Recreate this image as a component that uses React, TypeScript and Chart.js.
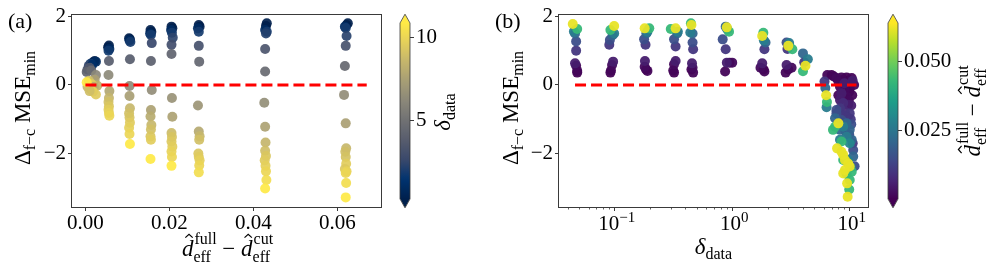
import React, { useEffect, useRef } from 'react';
import { Chart, registerables } from 'chart.js';
Chart.register(...registerables);

const FONT = '"Liberation Serif", "DejaVu Serif", serif';
const AXIS = '#3a3a3a';

// ---------- Panel (a): x = d_full - d_cut, y = Δ MSE_min, colour = δ_data ----------
const aX = [
  0.0022, 0.0018, 0.0025, 0.0012, 0.0008, 0.0016, 0.0005, 0.0010, 0.0003, 0.0014, 0.0025, 0.0022, 0.0028, 0.0008, 0.0015, 0.0005, 0.0012, 0.0020, 0.0018, 0.0025, 0.0010, 0.0003,
  0.0056, 0.0054, 0.0057, 0.0055, 0.0056, 0.0055, 0.0057, 0.0056, 0.0055, 0.0056, 0.0055, 0.0056, 0.0057,
  0.0104, 0.0106, 0.0105, 0.0107, 0.0106, 0.0105, 0.0105, 0.0106, 0.0104, 0.0105, 0.0106, 0.0104, 0.0105, 0.0106,
  0.0155, 0.0157, 0.0154, 0.0156, 0.0158, 0.0156, 0.0158, 0.0156, 0.0155, 0.0157, 0.0156, 0.0155, 0.0156, 0.0155,
  0.0205, 0.0207, 0.0204, 0.0206, 0.0208, 0.0205, 0.0205, 0.0206, 0.0207, 0.0205, 0.0206, 0.0205, 0.0207, 0.0205, 0.0206, 0.0205,
  0.0270, 0.0272, 0.0268, 0.0270, 0.0270, 0.0271, 0.0268, 0.0270, 0.0272, 0.0271, 0.0269, 0.0270, 0.0272, 0.0271, 0.0270,
  0.0432, 0.0430, 0.0428, 0.0432, 0.0430, 0.0428, 0.0428, 0.0426, 0.0428, 0.0429, 0.0428, 0.0430, 0.0427, 0.0429, 0.0430, 0.0431, 0.0428,
  0.0625, 0.0622, 0.0618, 0.0620, 0.0622, 0.0620, 0.0618, 0.0616, 0.0620, 0.0621, 0.0619, 0.0620, 0.0621, 0.0618, 0.0622, 0.0620, 0.0621, 0.0620,
];
const aY = [
  0.70, 0.66, 0.68, 0.62, 0.56, 0.58, 0.45, 0.50, 0.38, 0.42, 0.29, 0.15, -0.02, 0.12, 0.02, -0.05, -0.12, -0.06, -0.20, -0.28, -0.18, 0.08,
  1.15, 1.10, 1.05, 1.00, 0.70, 0.29, -0.18, -0.38, -0.50, -0.62, -0.72, -0.82, -0.90,
  1.36, 1.33, 1.30, 1.25, 0.75, -0.03, -0.32, -0.68, -0.83, -0.95, -1.10, -1.25, -1.43, -1.72,
  1.60, 1.55, 1.50, 1.46, 1.22, 0.70, -0.15, -0.73, -0.92, -1.17, -1.30, -1.50, -1.60, -2.16,
  1.70, 1.65, 1.60, 1.52, 1.38, 1.17, 0.90, -0.38, -0.93, -1.40, -1.52, -1.65, -1.80, -1.94, -2.10, -2.36,
  1.75, 1.70, 1.65, 1.55, 1.14, 0.68, -0.60, -1.36, -1.50, -1.60, -2.00, -2.10, -2.20, -2.35, -2.55,
  1.80, 1.72, 1.60, 1.55, 1.50, 1.05, 0.39, -0.52, -1.22, -1.68, -1.92, -2.07, -2.20, -2.36, -2.52, -2.77, -3.02,
  1.80, 1.75, 1.70, 1.66, 1.43, 1.14, 0.55, -0.29, -1.12, -1.85, -1.95, -2.10, -2.30, -2.45, -2.52, -2.57, -2.86, -3.28,
];
const aDelta = [
  0.1, 0.5, 1.0, 1.8, 2.5, 1.2, 3.2, 3.6, 4.2, 4.6, 6.2, 7.5, 8.3, 9.0, 9.6, 8.6, 9.3, 8.0, 9.9, 9.5, 8.9, 10.8,
  0.05, 0.3, 1.0, 1.8, 3.8, 6.3, 7.8, 8.5, 9.0, 9.3, 9.6, 9.8, 10.0,
  0.05, 0.3, 1.0, 1.9, 3.8, 6.4, 7.4, 8.6, 9.0, 9.2, 9.5, 9.7, 10.0, 10.8,
  0.05, 0.3, 1.0, 1.9, 2.6, 4.0, 6.5, 7.6, 8.0, 8.6, 9.0, 9.3, 9.6, 10.8,
  0.05, 0.3, 1.0, 1.9, 2.4, 3.0, 4.2, 6.8, 7.6, 8.8, 9.2, 9.4, 9.6, 9.8, 10.0, 10.8,
  0.05, 0.3, 1.0, 1.9, 3.2, 4.4, 6.9, 7.9, 8.6, 9.0, 9.3, 9.5, 9.7, 10.0, 10.3,
  0.05, 0.3, 1.0, 1.9, 2.2, 3.4, 4.6, 6.6, 7.6, 8.5, 8.9, 9.3, 9.5, 9.7, 10.0, 10.3, 10.8,
  0.05, 0.3, 1.0, 1.9, 2.3, 3.2, 4.5, 6.5, 7.5, 8.6, 8.9, 9.1, 9.6, 9.4, 9.8, 10.0, 10.3, 10.8,
];

// ---------- Panel (b): x = δ_data, y = Δ MSE_min, colour = d_full - d_cut ----------
const bDelta = [
  0.046, 0.045, 0.047, 0.047, 0.046, 0.047, 0.048, 0.048, 0.048, 0.044,
  0.096, 0.099, 0.091, 0.090, 0.097, 0.095, 0.093, 0.092, 0.092, 0.099,
  0.186, 0.190, 0.178, 0.183, 0.181, 0.180, 0.190, 0.185, 0.197, 0.180,
  0.340, 0.345, 0.320, 0.330, 0.330, 0.320, 0.315, 0.320, 0.300, 0.330,
  0.460, 0.440, 0.460, 0.465, 0.455, 0.460, 0.465, 0.450, 0.445, 0.450,
  0.880, 0.910, 0.830, 0.880, 0.900, 1.000, 0.870, 0.950, 0.940, 0.900,
  1.86, 1.92, 1.88, 1.80, 1.74, 1.88, 1.85, 1.84, 1.80,
  2.90, 3.05, 2.95, 2.90, 3.20, 2.85, 3.00, 3.25, 3.00,
  4.00, 4.40, 4.10, 4.00, 4.20,
  6.44, 7.0, 7.7, 8.5, 9.4, 10.4, 10.9, 10.6, 8.0, 9.0, 10.1, 9.5, 7.3, 8.8,
  6.2, 6.3, 6.4, 6.35, 6.1,
  8.26, 9.1, 10.0, 8.5, 9.4, 8.26, 8.8, 9.7, 8.26, 9.1, 10.0, 7.7, 10.5, 9.8, 10.3, 8.9, 9.6, 9.9, 8.0,
  7.7, 7.5, 8.5, 9.4, 10.0, 8.26, 10.4, 10.7, 11.0, 10.7, 10.2, 10.6, 10.3, 9.9, 9.2,
  8.8, 9.4, 10.0, 8.26, 9.7, 10.2,
  7.5, 7.2, 8.5, 8.8, 10.4, 10.0, 9.9, 9.4,
  8.0, 7.8, 8.8, 9.1, 9.7, 10.0, 9.1, 8.8, 9.5, 9.6, 8.5,
];
const bY = [
  1.50, 1.56, 1.27, 1.00, 0.63, 0.56, 0.41, 0.36, 1.63, 1.78,
  1.45, 1.50, 1.31, 1.17, 0.68, 0.58, 0.42, 0.36, 1.60, 1.72,
  1.50, 1.55, 1.33, 1.17, 0.70, 0.53, 0.41, 0.45, 1.65, 1.65,
  1.50, 1.55, 1.33, 1.12, 0.70, 0.60, 0.42, 0.36, 1.63, 1.65,
  1.50, 1.53, 1.24, 1.04, 0.63, 0.50, 0.36, 0.45, 1.80, 1.75,
  1.70, 1.62, 1.33, 1.04, 0.65, 0.65, 0.39, 0.65, 1.55, 1.68,
  1.30, 1.24, 1.04, 0.63, 0.50, 0.39, 0.45, 1.52, 1.43,
  1.24, 1.22, 1.05, 0.58, 0.50, 0.36, 0.45, 1.04, 1.14,
  0.92, 0.75, 0.66, 0.40, 0.56,
  0.29, 0.29, 0.20, 0.22, 0.22, 0.20, 0.00, 0.12, 0.10, 0.05, 0.10, 0.10, 0.25, 0.15,
  -0.09, -0.30, -0.50, -0.65, 0.10,
  -0.05, -0.15, -0.10, -0.24, -0.34, -0.44, -0.53, -0.58, -0.68, -0.78, -0.83, -0.83, -0.30, -0.45, -0.60, -0.90, -0.95, -0.20, -0.30,
  -0.73, -0.97, -1.02, -1.12, -1.31, -1.31, -1.60, -1.90, -2.37, -2.09, -1.00, -1.70, -1.15, -1.45, -1.35,
  -1.22, -1.51, -1.70, -1.60, -2.19, -2.40,
  -1.22, -1.31, -1.65, -2.19, -2.53, -2.77, -3.05, -2.60,
  -1.12, -1.85, -2.04, -2.19, -2.29, -2.38, -2.48, -2.58, -2.87, -3.26, -1.95,
];
const bDiff = [
  0.021, 0.027, 0.0155, 0.0105, 0.0055, 0.002, 0.001, 0.0005, 0.043, 0.062,
  0.021, 0.027, 0.0155, 0.0105, 0.0055, 0.002, 0.001, 0.0005, 0.043, 0.062,
  0.021, 0.027, 0.0155, 0.0105, 0.0055, 0.002, 0.001, 0.0005, 0.043, 0.062,
  0.021, 0.027, 0.0155, 0.0105, 0.0055, 0.002, 0.001, 0.0005, 0.043, 0.062,
  0.021, 0.027, 0.0155, 0.0105, 0.0055, 0.002, 0.001, 0.0005, 0.043, 0.062,
  0.021, 0.027, 0.0155, 0.0105, 0.0055, 0.002, 0.001, 0.0005, 0.043, 0.062,
  0.027, 0.021, 0.0105, 0.0055, 0.002, 0.001, 0.0005, 0.043, 0.062,
  0.0155, 0.027, 0.0105, 0.0055, 0.002, 0.001, 0.0005, 0.043, 0.062,
  0.021, 0.027, 0.0105, 0.043, 0.062,
  0.001, 0.0005, 0.002, 0.001, 0.0005, 0.001, 0.002, 0.0055, 0.002, 0.0055, 0.001, 0.0005, 0.001, 0.0005,
  0.021, 0.062, 0.043, 0.027, 0.0105,
  0.001, 0.002, 0.001, 0.0055, 0.002, 0.0055, 0.008, 0.0055, 0.0105, 0.008, 0.0105, 0.0155, 0.001, 0.002, 0.0055, 0.0105, 0.0105, 0.0005, 0.001,
  0.0155, 0.021, 0.0155, 0.021, 0.0205, 0.021, 0.021, 0.0155, 0.0155, 0.021, 0.0105, 0.0105, 0.0155, 0.0155, 0.0155,
  0.027, 0.027, 0.030, 0.027, 0.027, 0.030,
  0.043, 0.043, 0.043, 0.043, 0.043, 0.043, 0.043, 0.043,
  0.062, 0.062, 0.062, 0.062, 0.062, 0.062, 0.062, 0.062, 0.062, 0.062, 0.062,
];

// ---------- axes / ticks / ranges ----------
const aXRange = [-0.0032, 0.0704];
const yRange = [-3.56, 2.04];
const bXRange = [0.0336, 14.3];
const aXTicks = [0, 0.02, 0.04, 0.06];
const yTicks = [-2, 0, 2];
const bXTicks = [0.1, 1, 10];
const bXMinor = [0.04, 0.05, 0.06, 0.07, 0.08, 0.09, 0.2, 0.3, 0.4, 0.5, 0.6, 0.7, 0.8, 0.9, 2, 3, 4, 5, 6, 7, 8, 9];
const cbARange = [0.3, 10.85];
const cbATicks = [5, 10];
const cbBRange = [0.0003, 0.064];
const cbBTicks = [0.025, 0.05];
const refLevel = 0;
const refLineAX = [0, 0.067];
const refLineBX = [0.046, 11.4];

const CIVIDIS = ['#00204D', '#00336F', '#39486B', '#575C6D', '#707173', '#8A8779', '#A69D75', '#C4B56C', '#E4CF5B', '#FFEA46'];
const VIRIDIS = ['#440154', '#482878', '#3E4A89', '#31688E', '#26828E', '#1F9E89', '#35B779', '#6DCD59', '#B4DE2C', '#FDE725'];

function makeCmap(stops: string[]) {
  const rgb = stops.map((h) => [1, 3, 5].map((i) => parseInt(h.slice(i, i + 2), 16)));
  return (t: number, alpha = 1) => {
    const tt = Math.min(1, Math.max(0, t)) * (rgb.length - 1);
    const i = Math.min(Math.floor(tt), rgb.length - 2);
    const f = tt - i;
    const c = rgb[i].map((v, k) => Math.round(v + (rgb[i + 1][k] - v) * f));
    return `rgba(${c[0]},${c[1]},${c[2]},${alpha})`;
  };
}
const cividis = makeCmap(CIVIDIS);
const viridis = makeCmap(VIRIDIS);

// ---------- math-ish text drawing ----------
type Run = { t?: string; s: number; dy?: number; it?: boolean; hat?: boolean; sup?: string; sub?: string; supDy?: number; subDy?: number };
function fontOf(r: Run) {
  return `${r.it ? 'italic ' : ''}${r.s}px ${FONT}`;
}
function runWidth(ctx: CanvasRenderingContext2D, r: Run) {
  ctx.font = fontOf(r);
  if (r.sup !== undefined) return Math.max(ctx.measureText(r.sup).width, ctx.measureText(r.sub || '').width);
  return ctx.measureText(r.t || '').width;
}
function drawMath(ctx: CanvasRenderingContext2D, runs: Run[], x: number, y: number, rotate: boolean, align: 'center' | 'left' = 'center') {
  ctx.save();
  ctx.translate(x, y);
  if (rotate) ctx.rotate(-Math.PI / 2);
  ctx.textBaseline = 'alphabetic';
  ctx.textAlign = 'left';
  ctx.fillStyle = '#000';
  ctx.strokeStyle = '#000';
  const widths = runs.map((r) => runWidth(ctx, r));
  const total = widths.reduce((p, c) => p + c, 0);
  let cx = align === 'center' ? -total / 2 : 0;
  runs.forEach((r, i) => {
    ctx.font = fontOf(r);
    if (r.sup !== undefined) {
      ctx.fillText(r.sup, cx + 1, r.supDy || 0);
      ctx.fillText(r.sub || '', cx, r.subDy || 0);
    } else {
      ctx.fillText(r.t || '', cx, r.dy || 0);
      if (r.hat) {
        const hx = cx + widths[i] * 0.62;
        const top = -r.s * 0.8;
        ctx.beginPath();
        ctx.moveTo(hx - r.s * 0.16, top);
        ctx.lineTo(hx, top - r.s * 0.14);
        ctx.lineTo(hx + r.s * 0.16, top);
        ctx.lineWidth = 1.2;
        ctx.stroke();
      }
    }
    cx += widths[i] + (r.sup !== undefined ? 1 : 0);
  });
  ctx.restore();
}

const yTitleRuns: Run[] = [{ t: 'Δ', s: 23 }, { t: 'f−c', s: 16, dy: 5 }, { t: ' MSE', s: 23 }, { t: 'min', s: 16, dy: 5 }];
const dDiffRuns: Run[] = [
  { t: 'd', s: 23, it: true, hat: true },
  { sup: 'full', sub: 'eff', s: 16, supDy: -12, subDy: 6 },
  { t: ' − ', s: 23 },
  { t: 'd', s: 23, it: true, hat: true },
  { sup: 'cut', sub: 'eff', s: 16, supDy: -12, subDy: 6 },
];
const deltaRuns: Run[] = [{ t: 'δ', s: 23, it: true }, { t: 'data', s: 16, dy: 5 }];

function drawFrame(ctx: CanvasRenderingContext2D, a: any) {
  ctx.save();
  ctx.strokeStyle = AXIS;
  ctx.lineWidth = 1;
  const l = Math.round(a.left) - 0.5, t = Math.round(a.top) - 0.5;
  const r = Math.round(a.right) + 0.5, b = Math.round(a.bottom) + 0.5;
  ctx.strokeRect(l, t, r - l, b - t);
  ctx.restore();
}

const signed = (v: number) => (v < 0 ? '−' + Math.abs(v) : String(v));

function yScale(width: number) {
  return {
    min: yRange[0],
    max: yRange[1],
    afterBuildTicks: (s: any) => { s.ticks = yTicks.map((v) => ({ value: v })); },
    afterFit: (s: any) => { s.width = width; },
    ticks: { font: { family: FONT, size: 21 }, color: '#000', padding: 2, callback: (v: any) => signed(Number(v)) },
    grid: { drawOnChartArea: false, drawTicks: true, tickLength: 4, tickColor: AXIS, tickWidth: 1 },
    border: { display: false },
  };
}

function refLine(xs: number[]) {
  return {
    type: 'line' as const,
    data: xs.map((x) => ({ x, y: refLevel })),
    borderColor: '#ff0000',
    borderWidth: 3,
    borderDash: [11, 5],
    pointRadius: 0,
    fill: false,
    order: 0,
  };
}

function configA(): any {
  return {
    type: 'scatter',
    data: {
      datasets: [
        refLine(refLineAX),
        {
          type: 'scatter',
          data: aX.map((x, i) => ({ x, y: aY[i] })),
          pointRadius: 5,
          pointHoverRadius: 5,
          pointBorderWidth: 0,
          pointBackgroundColor: aDelta.map((d) => cividis((d - cbARange[0]) / (cbARange[1] - cbARange[0]), 0.92)),
          order: 1,
        },
      ],
    },
    options: {
      responsive: false,
      animation: false,
      devicePixelRatio: 1,
      events: [],
      layout: { padding: { left: 0, top: 15, right: 14, bottom: 0 } },
      plugins: { legend: { display: false }, tooltip: { enabled: false } },
      scales: {
        x: {
          type: 'linear',
          min: aXRange[0],
          max: aXRange[1],
          afterBuildTicks: (s: any) => { s.ticks = aXTicks.map((v) => ({ value: v })); },
          afterFit: (s: any) => { s.height = 71; },
          ticks: { font: { family: FONT, size: 21 }, color: '#000', padding: 0, maxRotation: 0, callback: (v: any) => Number(v).toFixed(2) },
          grid: { drawOnChartArea: false, drawTicks: true, tickLength: 4, tickColor: AXIS, tickWidth: 1 },
          border: { display: false },
        },
        y: yScale(72),
      },
    },
    plugins: [
      {
        id: 'decoA',
        afterDraw(chart: any) {
          const { ctx, chartArea: a } = chart;
          drawFrame(ctx, a);
          drawMath(ctx, [{ t: '(a)', s: 22 }], 8, 28, false, 'left');
          drawMath(ctx, yTitleRuns, 30, (a.top + a.bottom) / 2 - 3, true);
          drawMath(ctx, dDiffRuns, (a.left + a.right) / 2, 256, false);
        },
      },
    ],
  };
}

function configB(): any {
  const order = bDelta.map((_, i) => i).sort((p, q) => bDiff[p] - bDiff[q]);
  return {
    type: 'scatter',
    data: {
      datasets: [
        refLine(refLineBX),
        {
          type: 'scatter',
          data: order.map((i) => ({ x: bDelta[i], y: bY[i] })),
          pointRadius: 5,
          pointHoverRadius: 5,
          pointBorderWidth: 0,
          pointBackgroundColor: order.map((i) => viridis((bDiff[i] - cbBRange[0]) / (cbBRange[1] - cbBRange[0]), 0.95)),
          order: 1,
        },
      ],
    },
    options: {
      responsive: false,
      animation: false,
      devicePixelRatio: 1,
      events: [],
      layout: { padding: { left: 0, top: 15, right: 12, bottom: 0 } },
      plugins: { legend: { display: false }, tooltip: { enabled: false } },
      scales: {
        x: {
          type: 'logarithmic',
          min: bXRange[0],
          max: bXRange[1],
          afterBuildTicks: (s: any) => { s.ticks = bXTicks.map((v) => ({ value: v, major: true })); },
          afterFit: (s: any) => { s.height = 71; },
          ticks: { font: { family: FONT, size: 21 }, color: '#000', padding: 0, maxRotation: 0, autoSkip: false, callback: () => '' },
          grid: { drawOnChartArea: false, drawTicks: true, tickLength: 4, tickColor: AXIS, tickWidth: 1 },
          border: { display: false },
        },
        y: yScale(79),
      },
    },
    plugins: [
      {
        id: 'decoB',
        afterDraw(chart: any) {
          const { ctx, chartArea: a } = chart;
          const xs = chart.scales.x;
          drawFrame(ctx, a);
          ctx.save();
          ctx.strokeStyle = AXIS;
          ctx.lineWidth = 0.8;
          bXMinor.forEach((v) => {
            const px = Math.round(xs.getPixelForValue(v)) + 0.5;
            ctx.beginPath();
            ctx.moveTo(px, a.bottom);
            ctx.lineTo(px, a.bottom + 2.5);
            ctx.stroke();
          });
          ctx.restore();
          bXTicks.forEach((v) => {
            const e = Math.round(Math.log10(v));
            drawMath(ctx, [{ t: '10', s: 21 }, { t: e < 0 ? '−' + Math.abs(e) : String(e), s: 15, dy: -8 }], xs.getPixelForValue(v) + 2, 230, false);
          });
          drawMath(ctx, [{ t: '(b)', s: 22 }], 15, 28, false, 'left');
          drawMath(ctx, yTitleRuns, 38, (a.top + a.bottom) / 2 - 3, true);
          drawMath(ctx, deltaRuns, (a.left + a.right) / 2, 254, false);
        },
      },
    ],
  };
}

function configCbar(range: number[], ticks: number[], cmap: (t: number, a?: number) => string, fmt: (v: number) => string, padLeft: number, axisW: number, labelRuns: Run[], labelX: number): any {
  return {
    type: 'scatter',
    data: { datasets: [] },
    options: {
      responsive: false,
      animation: false,
      devicePixelRatio: 1,
      events: [],
      layout: { padding: { left: padLeft, top: 23, right: 0, bottom: 79 } },
      plugins: { legend: { display: false }, tooltip: { enabled: false } },
      scales: {
        x: { display: false, min: 0, max: 1 },
        y: {
          position: 'right',
          min: range[0],
          max: range[1],
          afterBuildTicks: (s: any) => { s.ticks = ticks.map((v) => ({ value: v })); },
          afterFit: (s: any) => { s.width = axisW; },
          ticks: { font: { family: FONT, size: 21 }, color: '#000', padding: 2, callback: (v: any) => fmt(Number(v)) },
          grid: { drawOnChartArea: false, drawTicks: true, tickLength: 4, tickColor: AXIS, tickWidth: 1 },
          border: { display: false },
        },
      },
    },
    plugins: [
      {
        id: 'cbar',
        beforeDraw(chart: any) {
          const { ctx, chartArea: a } = chart;
          const ext = (a.bottom - a.top) * 0.05;
          const mid = (a.left + a.right) / 2;
          ctx.save();
          const g = ctx.createLinearGradient(0, a.bottom, 0, a.top);
          for (let i = 0; i <= 40; i++) g.addColorStop(i / 40, cmap(i / 40));
          ctx.fillStyle = g;
          ctx.fillRect(a.left, a.top, a.right - a.left, a.bottom - a.top);
          ctx.fillStyle = cmap(1);
          ctx.beginPath();
          ctx.moveTo(a.left, a.top + 0.5);
          ctx.lineTo(mid, a.top - ext);
          ctx.lineTo(a.right, a.top + 0.5);
          ctx.closePath();
          ctx.fill();
          ctx.fillStyle = cmap(0);
          ctx.beginPath();
          ctx.moveTo(a.left, a.bottom - 0.5);
          ctx.lineTo(mid, a.bottom + ext);
          ctx.lineTo(a.right, a.bottom - 0.5);
          ctx.closePath();
          ctx.fill();
          ctx.strokeStyle = AXIS;
          ctx.lineWidth = 0.8;
          ctx.beginPath();
          ctx.moveTo(a.left, a.top);
          ctx.lineTo(mid, a.top - ext);
          ctx.lineTo(a.right, a.top);
          ctx.lineTo(a.right, a.bottom);
          ctx.lineTo(mid, a.bottom + ext);
          ctx.lineTo(a.left, a.bottom);
          ctx.closePath();
          ctx.stroke();
          ctx.restore();
        },
        afterDraw(chart: any) {
          const { ctx, chartArea: a } = chart;
          drawMath(ctx, labelRuns, labelX, (a.top + a.bottom) / 2 + 1, true);
        },
      },
    ],
  };
}

export default function App() {
  const aRef = useRef<HTMLCanvasElement>(null);
  const caRef = useRef<HTMLCanvasElement>(null);
  const bRef = useRef<HTMLCanvasElement>(null);
  const cbRef = useRef<HTMLCanvasElement>(null);

  useEffect(() => {
    const charts = [
      new Chart(aRef.current as HTMLCanvasElement, configA()),
      new Chart(caRef.current as HTMLCanvasElement, configCbar(cbARange, cbATicks, cividis, (v) => String(v), 5, 65, deltaRuns, 55)),
      new Chart(bRef.current as HTMLCanvasElement, configB()),
      new Chart(cbRef.current as HTMLCanvasElement, configCbar(cbBRange, cbBTicks, viridis, (v) => v.toFixed(3), 8, 99, dDiffRuns, 100)),
    ];
    return () => charts.forEach((c) => c.destroy());
  }, []);

  const pos = (left: number, width: number): React.CSSProperties => ({ position: 'absolute', left, top: 0, width, height: 278 });
  return (
    <div style={{ position: 'fixed', left: 0, top: 0, width: 997, height: 278, background: '#fff', overflow: 'hidden' }}>
      <canvas ref={aRef} width={395} height={278} style={pos(0, 395)} />
      <canvas ref={caRef} width={80} height={278} style={pos(395, 80)} />
      <canvas ref={bRef} width={400} height={278} style={pos(480, 400)} />
      <canvas ref={cbRef} width={117} height={278} style={pos(880, 117)} />
    </div>
  );
}
